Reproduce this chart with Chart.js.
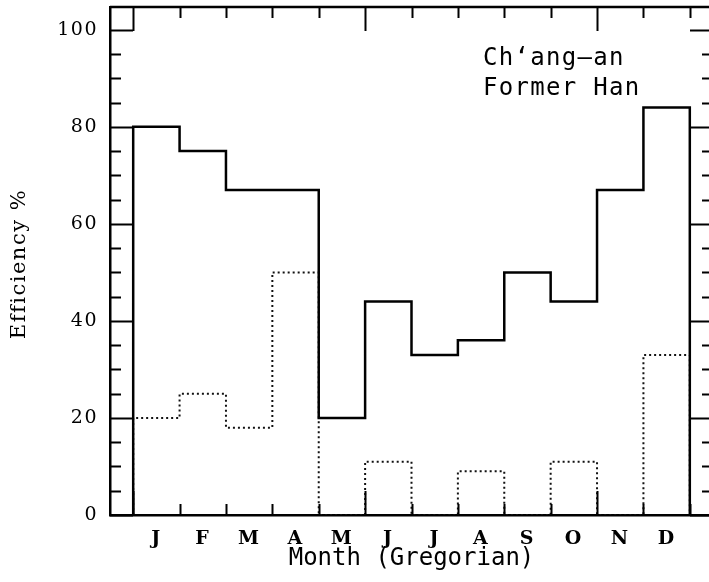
<!DOCTYPE html>
<html>
<head>
<meta charset="utf-8">
<script src="https://cdn.jsdelivr.net/npm/chart.js@4"></script>
<style>
  html, body { margin: 0; padding: 0; background: #fff; overflow: hidden; }
  #wrap { width: 709px; height: 582px; overflow: hidden; }
</style>
</head>
<body>
<div id="wrap"><canvas id="effChart" width="722" height="582"></canvas></div>
<script>
const months = ['J', 'F', 'M', 'A', 'M', 'J', 'J', 'A', 'S', 'O', 'N', 'D'];
const solidValues = [80, 75, 67, 67, 20, 44, 33, 36, 50, 44, 67, 84];
const dottedValues = [20, 25, 18, 50, 0, 11, 0, 9, 0, 11, 0, 33];
const yTickValues = [0, 20, 40, 60, 80, 100];

// step outline: start at 0, one step per month, drop back to 0 at the end
function stepPoints(values) {
    const pts = [{ x: 0, y: 0 }];
    values.forEach((v, i) => pts.push({ x: i, y: v }));
    pts.push({ x: values.length, y: values[values.length - 1] });
    pts.push({ x: values.length, y: 0 });
    return pts;
}

// ticks pointing inward on all four sides + top/right frame + texts
const framePlugin = {
    id: 'frame',
    beforeDraw(chart) {
        chart.ctx.letterSpacing = '1.5px';
    },
    beforeDatasetsDraw(chart) {
        chart.ctx.letterSpacing = '0px';
    },
    afterDraw(chart) {
        const { ctx, chartArea: a, scales } = chart;
        const xs = scales.x, ys = scales.y;
        ctx.save();
        ctx.strokeStyle = '#000';
        ctx.lineWidth = 2.5;
        ctx.beginPath();
        ctx.moveTo(a.left, a.top);
        ctx.lineTo(a.right, a.top);
        ctx.lineTo(a.right, a.bottom);
        ctx.stroke();

        ctx.lineWidth = 2;
        ctx.beginPath();
        for (let v = 0; v <= 100; v += 5) {
            const y = Math.round(ys.getPixelForValue(v)) + 0.5;
            const len = v % 20 === 0 ? 23 : 11;
            ctx.moveTo(a.left, y); ctx.lineTo(a.left + len, y);
            ctx.moveTo(a.right, y); ctx.lineTo(a.right - len, y);
        }
        for (let i = 0; i <= months.length; i++) {
            const x = Math.round(xs.getPixelForValue(i)) + 0.5;
            const len = i % 5 === 0 ? 24 : 11;
            ctx.moveTo(x, a.top); ctx.lineTo(x, a.top + len);
            ctx.moveTo(x, a.bottom); ctx.lineTo(x, a.bottom - len);
        }
        ctx.stroke();

        ctx.fillStyle = '#000';
        ctx.font = '24px "DejaVu Sans Mono"';
        ctx.textAlign = 'left';
        ctx.textBaseline = 'alphabetic';
        ctx.letterSpacing = '1.3px';
        ctx.fillText('Ch\u2018ang\u2013an', 483, 65);
        ctx.fillText('Former Han', 483, 95);

        ctx.letterSpacing = '0px';
        ctx.textAlign = 'center';
        ctx.fillText('Month (Gregorian)', (a.left + a.right) / 2, 565);

        ctx.translate(20, 264);
        ctx.rotate(-Math.PI / 2);
        ctx.font = '21px "DejaVu Serif"';
        ctx.letterSpacing = '1.5px';
        ctx.textBaseline = 'middle';
        ctx.fillText('Efficiency %', 0, 0);
        ctx.restore();
    }
};

const ctx = document.getElementById('effChart').getContext('2d');
new Chart(ctx, {
    type: 'line',
    data: {
        datasets: [{
            label: 'solid',
            data: stepPoints(solidValues),
            stepped: 'before',
            borderColor: '#000',
            borderWidth: 2.5,
            pointRadius: 0,
            fill: false
        }, {
            label: 'dotted',
            data: stepPoints(dottedValues),
            stepped: 'before',
            borderColor: '#111',
            borderWidth: 2,
            borderDash: [2, 3],
            pointRadius: 0,
            fill: false
        }]
    },
    options: {
        responsive: false,
        animation: false,
        layout: { padding: { top: 7, right: 9, left: 0, bottom: 0 } },
        scales: {
            x: {
                type: 'linear',
                min: -0.5,
                max: 12.5,
                afterFit: s => { s.height = 67; s.paddingLeft = 0; s.paddingRight = 0; },
                afterBuildTicks: s => { s.ticks = months.map((m, i) => ({ value: i + 0.5 })); },
                grid: { display: false, drawTicks: false },
                border: { display: true, color: '#000', width: 2.5 },
                ticks: {
                    padding: 13,
                    color: '#000',
                    font: { family: 'DejaVu Serif', size: 19, weight: 'bold' },
                    callback: (v, i) => months[i]
                }
            },
            y: {
                min: 0,
                max: 104.7,
                afterFit: s => { s.width = 110; s.paddingTop = 0; s.paddingBottom = 0; },
                afterBuildTicks: s => { s.ticks = yTickValues.map(v => ({ value: v })); },
                grid: { display: false, drawTicks: false },
                border: { display: true, color: '#000', width: 2.5 },
                ticks: {
                    padding: 12,
                    color: '#000',
                    font: { family: 'DejaVu Serif', size: 19 }
                }
            }
        },
        plugins: {
            legend: { display: false },
            tooltip: { enabled: false }
        }
    },
    plugins: [framePlugin]
});
</script>
</body>
</html>
